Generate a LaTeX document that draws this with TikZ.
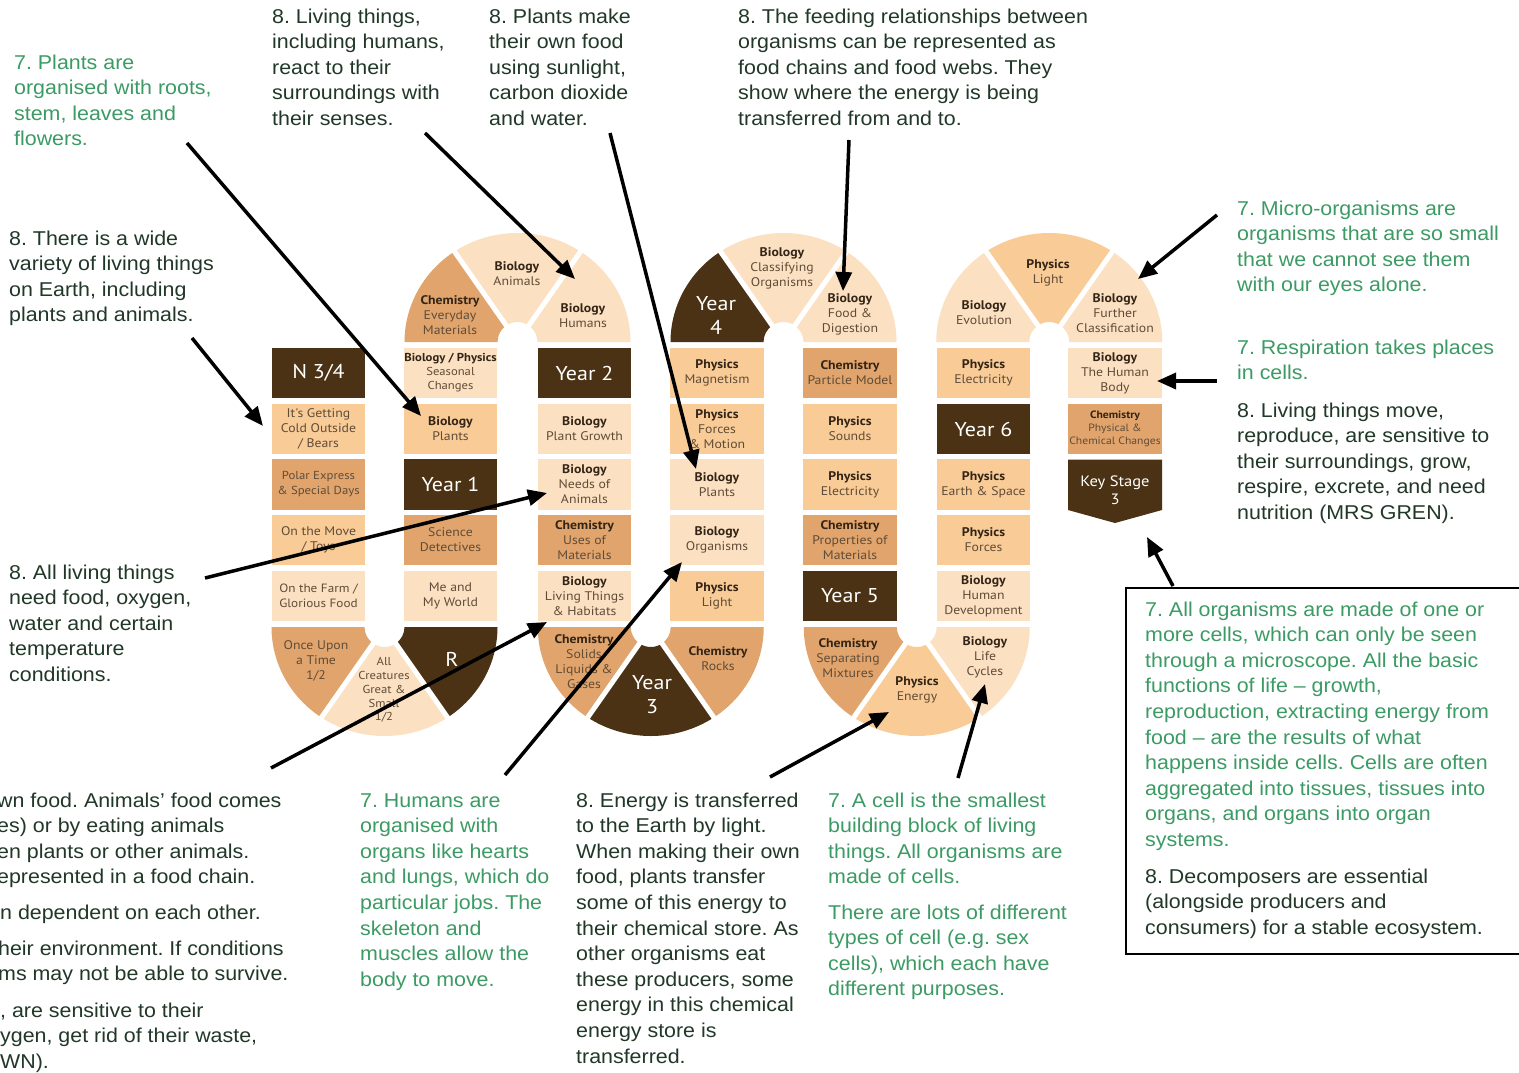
\documentclass[tikz,border=0pt]{standalone}
\usepackage{fontspec}
\setmainfont[FakeStretch=1.07]{Liberation Sans}
\newfontfamily\boardfont[FakeStretch=1.1]{PT Sans}
\usetikzlibrary{arrows.meta,calc}
\frenchspacing
\definecolor{dbrown}{RGB}{75,50,20}
\definecolor{midor}{RGB}{225,164,108}
\definecolor{ltor}{RGB}{249,203,150}
\definecolor{pale}{RGB}{252,224,194}
\definecolor{gsev}{RGB}{60,155,100}
\definecolor{geit}{RGB}{33,56,40}
\definecolor{subj}{RGB}{50,36,22}
\definecolor{topic}{RGB}{95,76,56}
\newcommand{\sj}[1]{\textbf{\color{subj}#1}}
\newcommand{\annsec}[5]{%
  \fill[#5] ($(#1,#2)+(#3:113 and 109)$) arc[start angle=#3, end angle=#4, x radius=113, y radius=109]
    -- ($(#1,#2)+(#4:20)$) arc[start angle=#4, end angle=#3, radius=20] -- cycle;}
\newcommand{\divline}[3]{\draw[white, line width=5pt] ($(#1,#2)+(#3:12)$) -- ($(#1,#2)+(#3:122 and 118)$);}
\tikzset{
  cell/.style={minimum width=93.5pt, minimum height=50.5pt, inner sep=0pt, align=center,
    font=\boardfont\fontsize{12.5}{15}\selectfont, text=topic},
  dk/.style={cell, fill=dbrown, text=white, font=\boardfont\fontsize{20}{24}\selectfont},
  md/.style={cell, fill=midor},
  lt/.style={cell, fill=ltor},
  pl/.style={cell, fill=pale},
  arcl/.style={inner sep=0pt, align=center, text=topic, font=\boardfont\fontsize{12.5}{15}\selectfont},
  arcd/.style={arcl, text=white, font=\boardfont\fontsize{20}{24}\selectfont},
  seven/.style={anchor=base west, inner sep=0pt, align=left, text=gsev, font=\frenchspacing\fontsize{20}{25.6}\selectfont},
  eight/.style={seven, text=geit},
  arr/.style={-{Triangle[length=19pt,width=16pt]}, line width=3.5pt, black},
}
\begin{document}
\begin{tikzpicture}[x=1pt,y=1pt]
\useasboundingbox (0,0) rectangle (1519,-1072);
\fill[white] (0,0) rectangle (1519,-1072);

% ---------- arcs ----------
\annsec{384.5}{-627}{180}{236}{midor}
\annsec{384.5}{-627}{236}{304}{pale}
\annsec{384.5}{-627}{304}{360}{dbrown}
\divline{384.5}{-627}{236}\divline{384.5}{-627}{304}
\annsec{517.5}{-342}{124}{180}{midor}
\annsec{517.5}{-342}{56}{124}{pale}
\annsec{517.5}{-342}{0}{56}{pale}
\divline{517.5}{-342}{56}\divline{517.5}{-342}{124}
\annsec{650.75}{-627}{180}{236}{midor}
\annsec{650.75}{-627}{236}{304}{dbrown}
\annsec{650.75}{-627}{304}{360}{midor}
\divline{650.75}{-627}{236}\divline{650.75}{-627}{304}
\annsec{783.5}{-342}{124}{180}{dbrown}
\annsec{783.5}{-342}{56}{124}{pale}
\annsec{783.5}{-342}{0}{56}{pale}
\divline{783.5}{-342}{56}\divline{783.5}{-342}{124}
\annsec{916.75}{-627}{180}{236}{midor}
\annsec{916.75}{-627}{236}{304}{ltor}
\annsec{916.75}{-627}{304}{360}{pale}
\divline{916.75}{-627}{236}\divline{916.75}{-627}{304}
\annsec{1049.25}{-342}{124}{180}{pale}
\annsec{1049.25}{-342}{56}{124}{ltor}
\annsec{1049.25}{-342}{0}{56}{pale}
\divline{1049.25}{-342}{56}\divline{1049.25}{-342}{124}

% arc labels
\node[arcl] (once) at (316,-661) {Once Upon\\a Time\\1/2};
\node[arcl, font=\boardfont\fontsize{11.5}{13.8}\selectfont] (allc) at (384,-690) {All\\Creatures\\Great \&\\Small\\1/2};
\node[arcd] (rec) at (452,-659) {R};
\node[arcl] (chev) at (450,-315) {\sj{Chemistry}\\Everyday\\Materials};
\node[arcl] (bani) at (517,-274) {\sj{Biology}\\Animals};
\node[arcl] (bhum) at (583,-316) {\sj{Biology}\\Humans};
\node[arcl] (csol) at (584,-662) {\sj{Chemistry}\\Solids\\Liquids \&\\Gases};
\node[arcd] (y3) at (652,-695) {Year\\3};
\node[arcl] (croc) at (718,-659) {\sj{Chemistry}\\Rocks};
\node[arcd] (y4) at (716,-315) {Year\\4};
\node[arcl] (bcla) at (782,-268) {\sj{Biology}\\Classifying\\Organisms};
\node[arcl] (bfood) at (850,-314) {\sj{Biology}\\Food \&\\Digestion};
\node[arcl] (csep) at (848,-658) {\sj{Chemistry}\\Separating\\Mixtures};
\node[arcl] (pene) at (917,-690) {\sj{Physics}\\Energy};
\node[arcl] (blife) at (985,-657) {\sj{Biology}\\Life\\Cycles};
\node[arcl] (bevo) at (984,-313) {\sj{Biology}\\Evolution};
\node[arcl] (plig2) at (1048,-273) {\sj{Physics}\\Light};
\node[arcl] (bfur) at (1115,-313) {\sj{Biology}\\Further\\Classification};

% ---------- column cells ----------
\node[dk] (n34) at (318.5,-373) {N 3/4};
\node[lt] (cold) at (318.5,-429) {It's Getting\\Cold Outside\\/ Bears};
\node[md, font=\boardfont\fontsize{11.6}{15}\selectfont] (polar) at (318.5,-484.5) {Polar Express\\\& Special Days};
\node[lt] (move) at (318.5,-540) {On the Move\\/ Toys};
\node[pl, font=\boardfont\fontsize{12}{15}\selectfont] (farm) at (318.5,-596) {On the Farm /\\Glorious Food};
\node[pl, font=\boardfont\fontsize{11.5}{14}\selectfont] (seas) at (450.5,-373) {\sj{Biology / Physics}\\Seasonal\\Changes};
\node[lt] (plants1) at (450.5,-429) {\sj{Biology}\\Plants};
\node[dk] (y1) at (450.5,-484.5) {Year 1};
\node[md] (detec) at (450.5,-540) {Science\\Detectives};
\node[pl] (meworld) at (450.5,-596) {Me and\\My World};
\node[dk] (y2) at (584.5,-373) {Year 2};
\node[pl] (pgrow) at (584.5,-429) {\sj{Biology}\\Plant Growth};
\node[pl] (needs) at (584.5,-484.5) {\sj{Biology}\\Needs of\\Animals};
\node[md] (uses) at (584.5,-540) {\sj{Chemistry}\\Uses of\\Materials};
\node[pl] (habit) at (584.5,-596) {\sj{Biology}\\Living Things\\\& Habitats};
\node[lt] (magn) at (717,-373) {\sj{Physics}\\Magnetism};
\node[lt] (force1) at (717,-429) {\sj{Physics}\\Forces\\\& Motion};
\node[pl] (plants2) at (717,-484.5) {\sj{Biology}\\Plants};
\node[pl] (organ) at (717,-540) {\sj{Biology}\\Organisms};
\node[lt] (light1) at (717,-596) {\sj{Physics}\\Light};
\node[md] (partic) at (850,-373) {\sj{Chemistry}\\Particle Model};
\node[lt] (sound) at (850,-429) {\sj{Physics}\\Sounds};
\node[lt] (elec1) at (850,-484.5) {\sj{Physics}\\Electricity};
\node[md] (prop) at (850,-540) {\sj{Chemistry}\\Properties of\\Materials};
\node[dk] (y5) at (850,-596) {Year 5};
\node[lt] (elec2) at (983.5,-373) {\sj{Physics}\\Electricity};
\node[dk] (y6) at (983.5,-429) {Year 6};
\node[lt] (earth) at (983.5,-484.5) {\sj{Physics}\\Earth \& Space};
\node[lt] (force2) at (983.5,-540) {\sj{Physics}\\Forces};
\node[pl] (hdev) at (983.5,-596) {\sj{Biology}\\Human\\Development};
\node[pl] (hbody) at (1115,-373) {\sj{Biology}\\The Human\\Body};
\node[md, font=\boardfont\fontsize{10.6}{13}\selectfont] (pchem) at (1115,-429) {\sj{Chemistry}\\Physical \&\\Chemical Changes};
\fill[dbrown] (1068,-459.5) -- (1162,-459.5) -- (1162,-510) -- (1115,-523) -- (1068,-510) -- cycle;
\node[arcl, text=white, font=\boardfont\fontsize{15}{18}\selectfont] (ks3) at (1115,-490) {Key Stage\\3};
\coordinate (ks3tip) at (1147,-537);

% ---------- text blocks (anchor = baseline of last line) ----------
\node[seven] (t7plants) at (14,-145.8) {7. Plants are\\organised with roots,\\stem, leaves and\\flowers.};
\node[eight] (t8variety) at (9,-321.8) {8. There is a wide\\variety of living things\\on Earth, including\\plants and animals.};
\node[eight] (t8react) at (272,-125.4) {8. Living things,\\including humans,\\react to their\\surroundings with\\their senses.};
\node[eight] (t8make) at (489,-125.4) {8. Plants make\\their own food\\using sunlight,\\carbon dioxide\\and water.};
\node[eight] (t8feed) at (738,-125.4) {8. The feeding relationships between\\organisms can be represented as\\food chains and food webs. They\\show where the energy is being\\transferred from and to.};
\node[seven] (t7micro) at (1237,-291.8) {7. Micro-organisms are\\organisms that are so small\\that we cannot see them\\with our eyes alone.};
\node[seven] (t7resp) at (1237,-379.6) {7. Respiration takes places\\in cells.};
\node[eight] (t8move) at (1237,-519.4) {8. Living things move,\\reproduce, are sensitive to\\their surroundings, grow,\\respire, excrete, and need\\nutrition (MRS GREN).};
\node[eight] (t8need) at (9,-681.4) {8. All living things\\need food, oxygen,\\water and certain\\temperature\\conditions.};
\node[draw=black, line width=1.5pt, anchor=north west, minimum width=420pt, minimum height=366pt, inner sep=0pt] (box) at (1125,-587) {};
\node[seven] (t7cells) at (1145,-846.4) {7. All organisms are made of one or\\more cells, which can only be seen\\through a microscope. All the basic\\functions of life – growth,\\reproduction, extracting energy from\\food – are the results of what\\happens inside cells. Cells are often\\aggregated into tissues, tissues into\\organs, and organs into organ\\systems.};
\node[eight] (t8decomp) at (1145,-934.2) {8. Decomposers are essential\\(alongside producers and\\consumers) for a stable ecosystem.};
\node[eight] (bl1) at (-3,-883.8) {wn food. Animals’ food comes\\es) or by eating animals\\en plants or other animals.\\epresented in a food chain.};
\node[eight] (bl2) at (0,-919) {n dependent on each other.};
\node[eight] (bl3) at (-2,-980.6) {heir environment. If conditions\\ms may not be able to survive.};
\node[eight] (bl4) at (0,-1068.2) {, are sensitive to their\\ygen, get rid of their waste,\\WN).};
\node[seven] (t7humans) at (360,-986.2) {7. Humans are\\organised with\\organs like hearts\\and lungs, which do\\particular jobs. The\\skeleton and\\muscles allow the\\body to move.};
\node[eight] (t8energy) at (576,-1063) {8. Energy is transferred\\to the Earth by light.\\When making their own\\food, plants transfer\\some of this energy to\\their chemical store. As\\other organisms eat\\these producers, some\\energy in this chemical\\energy store is\\transferred.};
\node[seven] (t7cell) at (828,-883.8) {7. A cell is the smallest\\building block of living\\things. All organisms are\\made of cells.};
\node[seven] (t7lots) at (828,-995.8) {There are lots of different\\types of cell (e.g. sex\\cells), which each have\\different purposes.};

% ---------- arrows ----------
\coordinate (a1t) at (187,-143);  \coordinate (a1h) at (421,-416);
\coordinate (a2t) at (192,-338);  \coordinate (a2h) at (263,-426);
\coordinate (a3t) at (425,-133);  \coordinate (a3h) at (575,-279);
\coordinate (a4t) at (610,-133);  \coordinate (a4h) at (696,-469);
\coordinate (a5t) at (849,-140);  \coordinate (a5h) at (843,-291);
\coordinate (a6t) at (1217,-215); \coordinate (a6h) at (1138,-279);
\coordinate (a7t) at (1217,-381); \coordinate (a7h) at (1157,-381);
\coordinate (a8t) at (1173,-586);
\coordinate (a9t) at (205,-578);  \coordinate (a9h) at (547,-493);
\coordinate (a10t) at (271,-768); \coordinate (a10h) at (547,-622);
\coordinate (a11t) at (505,-775); \coordinate (a11h) at (682,-562);
\coordinate (a12t) at (770,-777); \coordinate (a12h) at (889,-712);
\coordinate (a13t) at (958,-778); \coordinate (a13h) at (985,-684);
\draw[arr] (a1t) -- (a1h);
\draw[arr] (a2t) -- (a2h);
\draw[arr] (a3t) -- (a3h);
\draw[arr] (a4t) -- (a4h);
\draw[arr] (a5t) -- (a5h);
\draw[arr] (a6t) -- (a6h);
\draw[arr] (a7t) -- (a7h);
\draw[arr] (a8t) -- (ks3tip);
\draw[arr] (a9t) -- (a9h);
\draw[arr] (a10t) -- (a10h);
\draw[arr] (a11t) -- (a11h);
\draw[arr] (a12t) -- (a12h);
\draw[arr] (a13t) -- (a13h);
\end{tikzpicture}
\end{document}
